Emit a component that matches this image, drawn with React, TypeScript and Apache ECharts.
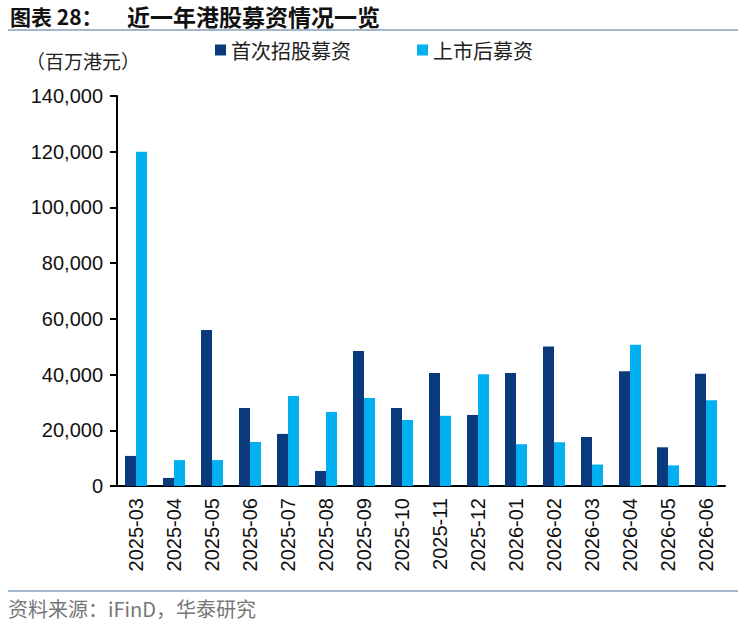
import React, { useEffect, useRef } from 'react';
import * as echarts from 'echarts';

const months = [
  '2025-03', '2025-04', '2025-05', '2025-06', '2025-07', '2025-08', '2025-09', '2025-10',
  '2025-11', '2025-12', '2026-01', '2026-02', '2026-03', '2026-04', '2026-05', '2026-06',
];
// 首次招股募资（百万港元）
const ipoFunds = [10800, 2900, 56000, 28000, 18700, 5400, 48500, 28000, 40600, 25500, 40600, 50100, 17600, 41200, 13900, 40300];
// 上市后募资（百万港元）
const followOnFunds = [120000, 9300, 9300, 15800, 32300, 26600, 31600, 23700, 25200, 40100, 15000, 15700, 7700, 50700, 7400, 30800];

const seriesNames = ['首次招股募资', '上市后募资'];
const colors = ['#0A3A7C', '#00B0F0'];

const cjk = '"Noto Sans CJK SC", sans-serif';
const latin = '"Liberation Sans", Arial, sans-serif';

const App = () => {
  const chartRef = useRef<HTMLDivElement>(null);

  useEffect(() => {
    const chart = echarts.init(chartRef.current, null, { renderer: 'svg' });
    chart.setOption({
      animation: false,
      color: colors,
      grid: { left: 117, right: 23, top: 96, bottom: 139 },
      legend: {
        left: 210,
        top: 35,
        itemWidth: 11,
        itemHeight: 11,
        itemGap: 66,
        icon: 'rect',
        textStyle: { fontFamily: cjk, fontSize: 20, color: '#222' },
        data: seriesNames,
      },
      graphic: [
        {
          type: 'text', left: 10, top: 5,
          style: { text: '图表 28：', font: `bold 21px ${cjk}`, fill: '#111' },
        },
        {
          type: 'text', left: 127, top: 4,
          style: { text: '近一年港股募资情况一览', font: `bold 23px ${cjk}`, fill: '#111' },
        },
        {
          type: 'line', shape: { x1: 8, y1: 30, x2: 738, y2: 30 },
          style: { stroke: '#A3B6CC', lineWidth: 2 },
        },
        {
          type: 'text', left: 26, top: 51,
          style: { text: '（百万港元）', font: `19px ${cjk}`, fill: '#222' },
        },
        {
          type: 'line', shape: { x1: 8, y1: 591, x2: 738, y2: 591 },
          style: { stroke: '#A3B6CC', lineWidth: 2 },
        },
        {
          type: 'text', left: 8, top: 598,
          style: { text: '资料来源：iFinD，华泰研究', font: `20px ${cjk}`, fill: '#777' },
        },
      ],
      xAxis: {
        type: 'category',
        data: months,
        axisLine: { lineStyle: { color: '#000', width: 2 } },
        axisTick: { length: 7, lineStyle: { color: '#000', width: 2 } },
        axisLabel: {
          rotate: 90,
          interval: 0,
          margin: 12,
          fontFamily: latin,
          fontSize: 20,
          color: '#111',
        },
      },
      yAxis: {
        type: 'value',
        min: 0,
        max: 140000,
        interval: 20000,
        splitLine: { show: false },
        axisLine: { show: true, lineStyle: { color: '#000', width: 2 } },
        axisTick: { show: true, length: 7, lineStyle: { color: '#000', width: 2 } },
        axisLabel: {
          margin: 14,
          fontFamily: latin,
          fontSize: 20,
          color: '#111',
          formatter: (v: number) => v.toLocaleString('en-US'),
        },
      },
      series: [
        {
          name: seriesNames[0],
          type: 'bar',
          data: ipoFunds,
          barWidth: 11,
          barGap: '0%',
        },
        {
          name: seriesNames[1],
          type: 'bar',
          data: followOnFunds,
          barWidth: 11,
          barGap: '0%',
        },
      ],
    });
    return () => {
      chart.dispose();
    };
  }, []);

  return (
    <div
      ref={chartRef}
      style={{ position: 'absolute', left: 0, top: 0, width: 748, height: 625, background: '#fff' }}
    />
  );
};

export default App;
